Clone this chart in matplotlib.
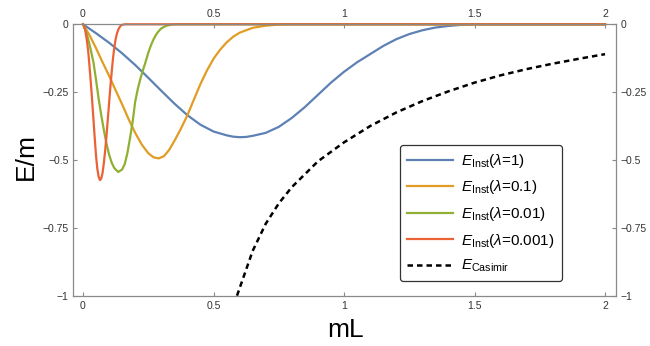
import matplotlib
matplotlib.use("Agg")
import matplotlib.pyplot as plt

plt.rcParams['font.family'] = ['Liberation Sans', 'DejaVu Sans']
plt.rcParams['mathtext.fontset'] = 'custom'
plt.rcParams['mathtext.rm'] = 'Liberation Sans'
plt.rcParams['mathtext.it'] = 'Liberation Sans:italic'

# ---- data ----
x_l1 = [0, 0.05, 0.1, 0.15, 0.2, 0.25, 0.3, 0.35, 0.4, 0.45, 0.5, 0.55, 0.575, 0.6,
        0.625, 0.65, 0.7, 0.75, 0.8, 0.85, 0.9, 0.95, 1.0, 1.05, 1.1, 1.15, 1.2, 1.25,
        1.3, 1.35, 1.4, 1.45, 1.5, 2.0]
y_l1 = [0, -0.033, -0.068, -0.107, -0.15, -0.197, -0.245, -0.292, -0.335, -0.37,
        -0.395, -0.409, -0.414, -0.416, -0.415, -0.411, -0.4, -0.378, -0.345, -0.305,
        -0.26, -0.215, -0.175, -0.14, -0.11, -0.08, -0.055, -0.036, -0.022, -0.012,
        -0.006, -0.002, 0, 0]

x_l01 = [0, 0.025, 0.05, 0.075, 0.1, 0.125, 0.15, 0.175, 0.2, 0.225, 0.25, 0.27, 0.29,
         0.31, 0.33, 0.35, 0.375, 0.4, 0.425, 0.45, 0.475, 0.5, 0.525, 0.55, 0.575,
         0.6, 0.65, 0.7, 0.75, 0.8, 2.0]
y_l01 = [0, -0.04, -0.088, -0.14, -0.19, -0.243, -0.295, -0.35, -0.4, -0.443, -0.475,
         -0.49, -0.494, -0.486, -0.463, -0.43, -0.385, -0.335, -0.277, -0.22, -0.17,
         -0.127, -0.094, -0.067, -0.046, -0.031, -0.013, -0.005, -0.001, 0, 0]

x_l001 = [0, 0.01, 0.02, 0.03, 0.04, 0.05, 0.06, 0.07, 0.08, 0.09, 0.1, 0.11, 0.12,
          0.135, 0.15, 0.16, 0.17, 0.18, 0.19, 0.2, 0.21, 0.22, 0.23, 0.24, 0.25, 0.26,
          0.27, 0.28, 0.29, 0.3, 0.32, 0.34, 0.36, 2.0]
y_l001 = [0, -0.022, -0.055, -0.095, -0.14, -0.205, -0.275, -0.335, -0.39, -0.44,
          -0.48, -0.51, -0.53, -0.544, -0.535, -0.515, -0.475, -0.42, -0.36, -0.285,
          -0.238, -0.2, -0.168, -0.138, -0.105, -0.078, -0.056, -0.038, -0.025, -0.015,
          -0.005, -0.001, 0, 0]

x_l0001 = [0, 0.005, 0.01, 0.015, 0.02, 0.025, 0.03, 0.035, 0.04, 0.045, 0.05, 0.055,
           0.06, 0.065, 0.07, 0.075, 0.08, 0.085, 0.09, 0.095, 0.1, 0.105, 0.11, 0.115,
           0.12, 0.125, 0.13, 0.135, 0.14, 0.145, 0.15, 0.16, 2.0]
y_l0001 = [0, -0.008, -0.03, -0.06, -0.1, -0.155, -0.215, -0.28, -0.35, -0.42, -0.485,
           -0.533, -0.562, -0.574, -0.568, -0.547, -0.51, -0.465, -0.41, -0.35, -0.29,
           -0.23, -0.175, -0.125, -0.085, -0.055, -0.034, -0.02, -0.011, -0.005, -0.002,
           0, 0]

x_cas = [0.59, 0.65, 0.7, 0.75, 0.8, 0.9, 1.0, 1.1, 1.2, 1.3, 1.4, 1.5, 1.6, 1.7,
         1.8, 1.9, 2.0]
y_cas = [-1.0, -0.835, -0.735, -0.66, -0.6, -0.505, -0.435, -0.375, -0.325, -0.283,
         -0.247, -0.215, -0.188, -0.165, -0.145, -0.127, -0.11]

labels = [r'$E_{\mathrm{Inst}}$($\lambda$=1)', r'$E_{\mathrm{Inst}}$($\lambda$=0.1)',
          r'$E_{\mathrm{Inst}}$($\lambda$=0.01)', r'$E_{\mathrm{Inst}}$($\lambda$=0.001)',
          r'$E_{\mathrm{Casimir}}$']
colors = ['#5E81B5', '#E19C24', '#8FB032', '#EB6235']

xticks = [0, 0.5, 1, 1.5, 2]
xticklabels = ['0', '0.5', '1', '1.5', '2']
yticks = [0, -0.25, -0.5, -0.75, -1]
yticklabels = ['0', '\u22120.25', '\u22120.5', '\u22120.75', '\u22121']

# ---- figure ----
fig = plt.figure(figsize=(6.5, 3.46), dpi=100)
ax = fig.add_axes([73/650, 1-295.7/346, (616-73)/650, (295.7-24.3)/346])

series = [(x_l1, y_l1), (x_l01, y_l01), (x_l001, y_l001), (x_l0001, y_l0001)]
for (xs, ys), c, lab in zip(series, colors, labels[:4]):
    ax.plot(xs, ys, color=c, lw=1.6, label=lab, clip_on=False,
            solid_joinstyle='round')
ax.plot(x_cas, y_cas, color='black', lw=1.8, ls=(0, (2.2, 1.6)), label=labels[4])

ax.set_xlim(-0.0383, 2.042)
ax.set_ylim(-1, 0)

gray = '#8a8a8a'
for s in ax.spines.values():
    s.set_color(gray)
    s.set_linewidth(0.9)

ax.set_xticks(xticks)
ax.set_xticklabels(xticklabels)
ax.set_yticks(yticks)
ax.set_yticklabels(yticklabels)
ax.tick_params(axis='both', which='both', labelsize=7.5, labelcolor='#333333',
               color=gray, width=0.8, length=3)
ax.tick_params(axis='x', top=True, labeltop=True, direction='in', pad=4)
ax.tick_params(axis='y', right=True, labelright=True, direction='in', pad=3)

fig.text(346/650, 1-330/346, 'mL', fontsize=19, ha='center', va='center')
fig.text(26/650, 1-157/346, 'E/m', fontsize=19, ha='center', va='center',
         rotation=90)

leg = ax.legend(loc='upper left', bbox_to_anchor=(400/650, 1-145/346),
                bbox_transform=fig.transFigure, borderaxespad=0, fontsize=11,
                handlelength=3.0, handletextpad=0.55, labelspacing=0.56,
                borderpad=0.45, frameon=True, fancybox=True, framealpha=1)
leg.get_frame().set_edgecolor('#333333')
leg.get_frame().set_linewidth(0.9)
leg.get_frame().set_boxstyle('round', pad=0, rounding_size=0.2)

fig.savefig('out.png', dpi=100)
